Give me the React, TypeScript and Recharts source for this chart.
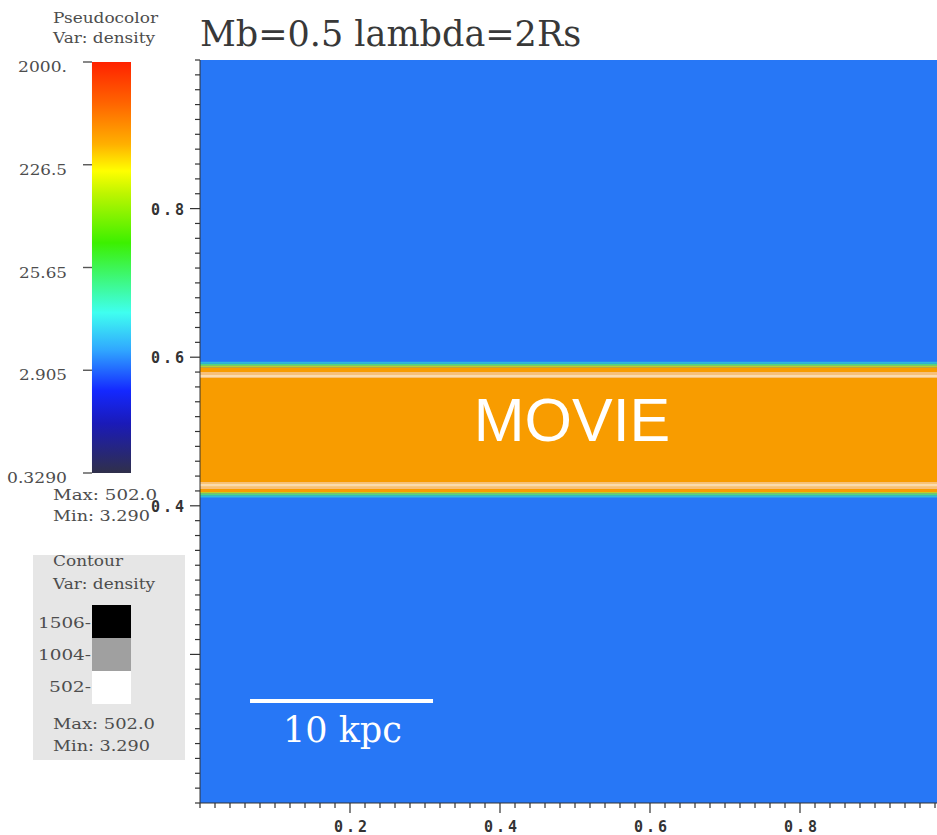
import { ComposedChart, ReferenceArea, ReferenceLine, XAxis, YAxis } from 'recharts'

// density slice: blue background, orange slab across the middle
const FIELD_COLOR = '#2777f6'
const SLAB_COLOR = '#f89c00'
const slabLow = 0.4186
const slabHigh = 0.5865

// thin rims at the slab edges (green/cyan mixing layer, pale contour line)
const rimLow = [0.4112, 0.414, 0.4166, 0.43, 0.4255, 0.4226, 0.572, 0.5735, 0.576, 0.5865, 0.589, 0.5915]
const rimHigh = [0.414, 0.4166, 0.4186, 0.432, 0.43, 0.4255, 0.5735, 0.576, 0.58, 0.589, 0.5915, 0.594]
const rimColor = ['#2fb8e0', '#4fd880', '#b8d030', '#f7c07a', '#fbdcae', '#f7c07a', '#f7c07a', '#fbdcae', '#f7c07a', '#b8d030', '#4fd880', '#2fb8e0']

// axes
const axisTicks = Array.from({ length: 51 }, (_, i) => Math.round(i * 2) / 100)
const majorTicks = [0.2, 0.4, 0.6, 0.8]
const tickText = ['0.2', '0.4', '0.6', '0.8']

// scale bar (10 kpc) in box units
const scaleBarX = [0.0667, 0.3107]
const scaleBarY = 0.1373

// pseudocolor legend
const colorbarTicks = [0.329, 2.905, 25.65, 226.5, 2000]
const colorbarLabels = ['0.3290', '2.905', '25.65', '226.5', '2000.']
const colorbarLabelWidth = [60, 48, 48, 48, 49]
const colorbarStops = [
  { offset: 0, color: '#ff2200' },
  { offset: 0.1, color: '#ff6400' },
  { offset: 0.2, color: '#ffb000' },
  { offset: 0.265, color: '#ffff00' },
  { offset: 0.32, color: '#bef500' },
  { offset: 0.44, color: '#3cf000' },
  { offset: 0.61, color: '#3ffff0' },
  { offset: 0.7, color: '#30a8ff' },
  { offset: 0.8, color: '#1428ff' },
  { offset: 0.88, color: '#1a1ab8' },
  { offset: 1, color: '#30304a' },
]

// contour legend
const contourLevels = ['1506', '1004', '502']
const contourLabelWidth = [53, 53, 42]
const contourColors = ['#000000', '#a0a0a0', '#ffffff']

const LEGEND_FONT = '"DejaVu Serif", serif'
const LEGEND_COLOR = '#4d4d4d'
const TICK_FONT = '"DejaVu Sans Mono", monospace'

const PLOT_TOP = 60
const PLOT_BOTTOM = 803
const PLOT_LEFT = 200

function isMajor(v: number) {
  return majorTicks.findIndex((m) => Math.abs(m - v) < 1e-6)
}

function XTick(props: any) {
  const { x, payload } = props
  const idx = isMajor(payload.value)
  return (
    <g>
      <line x1={x} x2={x} y1={PLOT_BOTTOM} y2={PLOT_BOTTOM + (idx >= 0 ? 10 : 5)} stroke="#333" strokeWidth={1.2} />
      {idx >= 0 && (
        <text x={x + 2} y={832} textAnchor="middle" fontFamily={TICK_FONT} fontWeight="bold" fontSize={15} letterSpacing={3} fill="#333">
          {tickText[idx]}
        </text>
      )}
    </g>
  )
}

function YTick(props: any) {
  const { y, payload } = props
  const idx = isMajor(payload.value)
  return (
    <g>
      <line x1={PLOT_LEFT - (idx >= 0 ? 10 : 5)} x2={PLOT_LEFT} y1={y} y2={y} stroke="#333" strokeWidth={1.2} />
      {idx >= 0 && (
        <text x={187} y={y + 6} textAnchor="end" fontFamily={TICK_FONT} fontWeight="bold" fontSize={15} letterSpacing={3} fill="#333">
          {tickText[idx]}
        </text>
      )}
    </g>
  )
}

function ColorbarTick(props: any) {
  const { y, payload } = props
  const idx = colorbarTicks.indexOf(payload.value)
  const w = colorbarLabelWidth[idx]
  return (
    <text
      x={67 - w}
      y={y + 10}
      fontFamily={LEGEND_FONT}
      fontSize={15}
      fill={LEGEND_COLOR}
      textLength={w}
      lengthAdjust="spacingAndGlyphs"
    >
      {colorbarLabels[idx]}
    </text>
  )
}

function LegendText({ x, y, w, children }: { x: number; y: number; w?: number; children: string }) {
  return (
    <text
      x={x}
      y={y}
      fontFamily={LEGEND_FONT}
      fontSize={14}
      fill={LEGEND_COLOR}
      textLength={w}
      lengthAdjust={w ? 'spacingAndGlyphs' : undefined}
    >
      {children}
    </text>
  )
}

export default function App() {
  return (
    <div
      style={{
        position: 'absolute',
        left: 0,
        top: 0,
        width: 937,
        height: 835,
        overflow: 'hidden',
        background: '#ffffff',
      }}
    >
      {/* main slice */}
      <div style={{ position: 'absolute', left: 0, top: 0, zIndex: 1 }}>
        <ComposedChart width={960} height={835} margin={{ top: PLOT_TOP, right: 10, bottom: 2, left: 0 }}>
          <XAxis
            type="number"
            dataKey="x"
            domain={[0, 1]}
            ticks={axisTicks}
            interval={0}
            height={30}
            tickLine={false}
            axisLine={{ stroke: '#333' }}
            tick={<XTick />}
            allowDataOverflow
          />
          <YAxis
            type="number"
            dataKey="y"
            domain={[0, 1]}
            ticks={axisTicks}
            interval={0}
            width={PLOT_LEFT}
            tickLine={false}
            axisLine={{ stroke: '#333' }}
            tick={<YTick />}
            allowDataOverflow
          />
          <ReferenceArea x1={0} x2={1} y1={0} y2={1} fill={FIELD_COLOR} fillOpacity={1} stroke="none" />
          <ReferenceArea x1={0} x2={1} y1={slabLow} y2={slabHigh} fill={SLAB_COLOR} fillOpacity={1} stroke="none" />
          {rimLow.map((lo, i) => (
            <ReferenceArea key={i} x1={0} x2={1} y1={lo} y2={rimHigh[i]} fill={rimColor[i]} fillOpacity={1} stroke="none" />
          ))}
          <ReferenceLine
            segment={[
              { x: scaleBarX[0], y: scaleBarY },
              { x: scaleBarX[1], y: scaleBarY },
            ]}
            stroke="#ffffff"
            strokeWidth={4}
          />
        </ComposedChart>
      </div>

      {/* pseudocolor bar: plot spans the tick marks (x < 0) and the bar (0..1) */}
      <div style={{ position: 'absolute', left: 0, top: 0, zIndex: 2 }}>
        <ComposedChart width={140} height={500} margin={{ top: 62, right: 9, bottom: 27, left: 0 }}>
          <defs>
            <linearGradient id="cbarGrad" x1="0" y1="0" x2="0" y2="1">
              {colorbarStops.map((s) => (
                <stop key={s.offset} offset={`${s.offset * 100}%`} stopColor={s.color} />
              ))}
            </linearGradient>
          </defs>
          <XAxis
            type="number"
            dataKey="x"
            domain={[-0.23, 1]}
            ticks={[0, 1]}
            height={0}
            tick={false}
            tickLine={false}
            axisLine={false}
            allowDataOverflow
          />
          <YAxis
            type="number"
            dataKey="v"
            scale="log"
            domain={[0.329, 2000]}
            ticks={colorbarTicks}
            interval={0}
            width={83}
            tickLine={false}
            axisLine={false}
            tick={<ColorbarTick />}
            allowDataOverflow
          />
          <ReferenceArea x1={0} x2={1} y1={0.329} y2={2000} fill="url(#cbarGrad)" fillOpacity={1} stroke="none" />
          {colorbarTicks.map((t) => (
            <ReferenceLine
              key={t}
              segment={[
                { x: -0.23, y: t },
                { x: 0, y: t },
              ]}
              stroke="#555555"
              strokeWidth={1.4}
            />
          ))}
        </ComposedChart>
      </div>

      {/* contour legend box */}
      <div
        style={{
          position: 'absolute',
          left: 33,
          top: 555,
          width: 152,
          height: 205,
          background: '#e6e6e6',
          zIndex: 2,
        }}
      />
      {contourLevels.map((lvl, i) => (
        <div
          key={lvl}
          style={{
            position: 'absolute',
            left: 92,
            top: 605 + i * 33,
            width: 39,
            height: 33,
            background: contourColors[i],
            zIndex: 2,
          }}
        />
      ))}

      {/* text layer */}
      <svg width={937} height={835} style={{ position: 'absolute', left: 0, top: 0, pointerEvents: 'none', zIndex: 3 }}>
        <text x={200} y={46} fontFamily={LEGEND_FONT} fontSize={35} fill="#383838">
          Mb=0.5 lambda=2Rs
        </text>

        <LegendText x={53} y={23} w={105}>Pseudocolor</LegendText>
        <LegendText x={53} y={43} w={102}>Var: density</LegendText>
        <LegendText x={53} y={500} w={104}>Max: 502.0</LegendText>
        <LegendText x={53} y={521} w={97}>Min: 3.290</LegendText>

        <LegendText x={53} y={566} w={70}>Contour</LegendText>
        <LegendText x={53} y={589} w={102}>Var: density</LegendText>
        {contourLevels.map((lvl, i) => (
          <LegendText key={lvl} x={91 - contourLabelWidth[i]} y={628 + i * 32} w={contourLabelWidth[i]}>
            {`${lvl}-`}
          </LegendText>
        ))}
        <LegendText x={53} y={729} w={102}>Max: 502.0</LegendText>
        <LegendText x={53} y={751} w={97}>Min: 3.290</LegendText>

        <text x={283} y={742} fontFamily={LEGEND_FONT} fontSize={35} fill="#ffffff">
          10 kpc
        </text>
        <text x={572} y={441} textAnchor="middle" fontFamily='"Liberation Sans", Arial, sans-serif' fontSize={61} fill="#ffffff">
          MOVIE
        </text>
      </svg>
    </div>
  )
}
